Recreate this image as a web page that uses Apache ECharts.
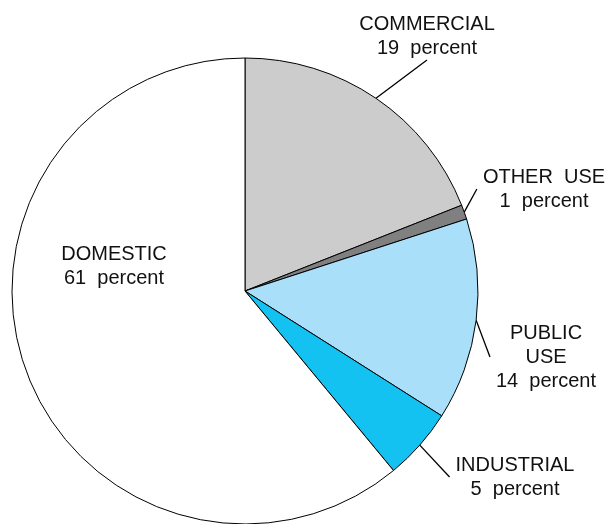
<!DOCTYPE html>
<html>
<head>
<meta charset="utf-8">
<script src="https://cdn.jsdelivr.net/npm/echarts@6/dist/echarts.min.js"></script>
<style>
  html, body { margin: 0; padding: 0; background: #fff; }
  #chart { width: 612px; height: 524px; }
</style>
</head>
<body>
<div id="chart"></div>
<script>
// slices, clockwise from 12 o'clock
const categories = ["COMMERCIAL", "OTHER  USE", "PUBLIC\nUSE", "INDUSTRIAL", "DOMESTIC"];
const percents = [19, 1, 14, 5, 61];
const sliceColors = ["#cccccc", "#808080", "#a9dff9", "#14c2f2", "#ffffff"];
// where each label block is centred (layout only)
const labelSpots = [[427, 36], [544, 189], [546, 357], [515, 477], [114, 266]];

const chart = echarts.init(document.getElementById("chart"));

const option = {
  animation: false,
  series: [
    {
      type: "pie",
      center: [245, 291],
      radius: 233,
      startAngle: 90,
      clockwise: true,
      avoidLabelOverlap: false,
      emphasis: { disabled: true },
      itemStyle: { borderColor: "#000", borderWidth: 1 },
      label: {
        show: true,
        color: "#111",
        fontFamily: "Liberation Sans, Arial, sans-serif",
        fontSize: 20,
        lineHeight: 24,
        align: "center",
        padding: [0, 6],
        formatter: (p) => p.name + "\n" + p.value + "  percent",
      },
      labelLine: {
        show: true,
        length: 10,
        length2: 0,
        lineStyle: { color: "#000", width: 1.3 },
      },
      labelLayout: (params) => {
        const spot = labelSpots[params.dataIndex];
        return { x: spot[0], y: spot[1], align: "center", verticalAlign: "middle" };
      },
      data: categories.map((name, i) => ({
        name: name,
        value: percents[i],
        itemStyle: { color: sliceColors[i] },
        labelLine: { show: i !== 4 },
      })),
    },
  ],
};

chart.setOption(option);
</script>
</body>
</html>
